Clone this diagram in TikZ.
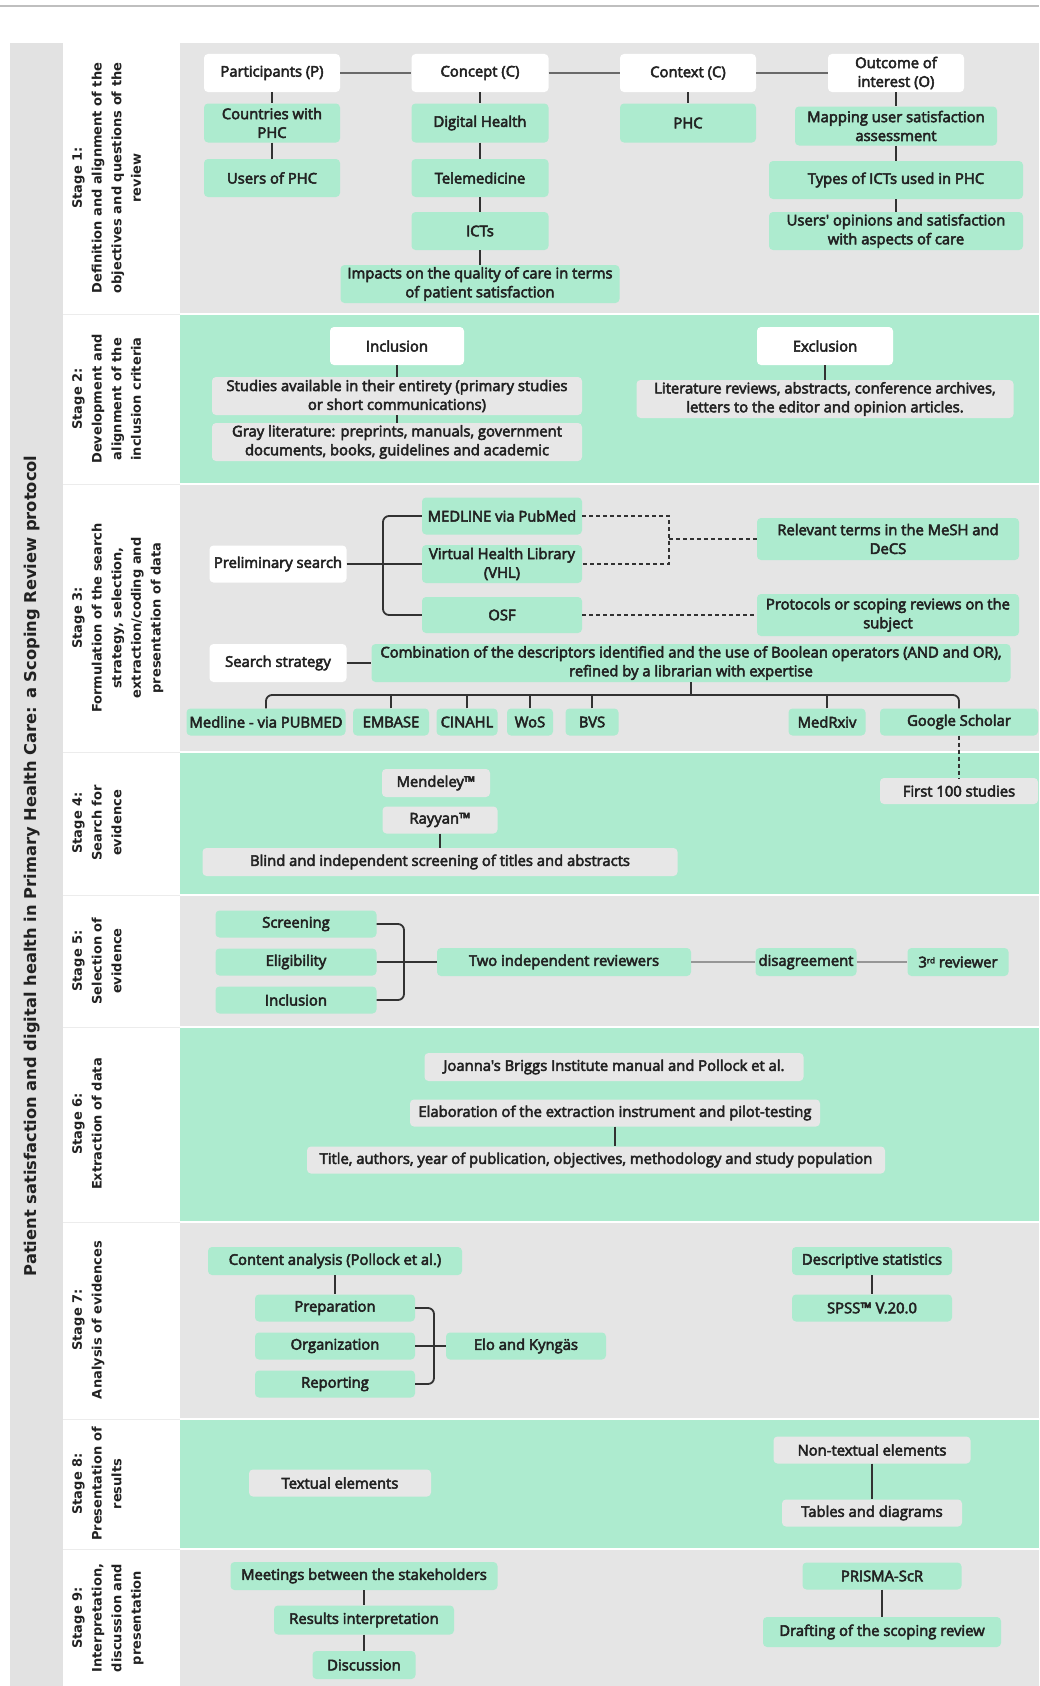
\documentclass[tikz,border=0pt]{standalone}
\usepackage{fontspec}
\newfontfamily\nf{Open Sans}[FakeBold=3.5]
\newfontfamily\lf{DejaVu Sans}
\definecolor{grn}{RGB}{173,235,207}
\definecolor{bgray}{RGB}{229,229,229}
\definecolor{ngray}{RGB}{231,231,231}
\definecolor{obgray}{RGB}{226,226,226}
\definecolor{txt}{RGB}{34,34,34}
\definecolor{lnk}{RGB}{50,50,50}
\definecolor{hl}{RGB}{105,105,105}
\definecolor{sepc}{RGB}{236,236,236}
\tikzset{
  nbox/.style={rounded corners=4pt, inner xsep=2pt, inner ysep=1pt, align=center, text=txt,
    font=\nf\fontsize{14.8}{18.8}\selectfont},
  gbox/.style={nbox, fill=grn},
  wbox/.style={nbox, fill=white},
  ybox/.style={nbox, fill=ngray},
  conn/.style={draw=lnk, line width=1.2pt},
  hdr/.style={draw=hl, line width=2.6pt},
  brk/.style={draw=lnk, line width=1.8pt, rounded corners=6pt},
  dsh/.style={draw=lnk, line width=1.2pt, dash pattern=on 4pt off 3pt},
  glink/.style={draw=hl!70, line width=1.5pt},
  lbl/.style={rotate=90, anchor=north, align=center, inner sep=0pt, text=txt,
    font=\lf\bfseries\fontsize{13}{19.7}\selectfont},
}
\begin{document}
\begin{tikzpicture}[x=1pt,y=-1pt]
\useasboundingbox (0,0) rectangle (1039,1686);
% top rule
\draw[draw=black!25, line width=1.5pt] (0,6) -- (1039,6);
% outer title band
\fill[obgray] (10,43) rectangle (63,1686);
\fill[white] (63,43) rectangle (180,1686);
% stage bands
\fill[bgray] (180,43) rectangle (1039,313);
\fill[grn]   (180,315) rectangle (1039,483);
\fill[bgray] (180,485) rectangle (1039,751);
\fill[grn]   (180,753) rectangle (1039,894);
\fill[bgray] (180,896) rectangle (1039,1026);
\fill[grn]   (180,1028) rectangle (1039,1221);
\fill[bgray] (180,1223) rectangle (1039,1418);
\fill[grn]   (180,1420) rectangle (1039,1548);
\fill[bgray] (180,1550) rectangle (1039,1686);
\foreach \yy in {314,484,752,895,1027,1222,1419,1549}
  \draw[sepc, line width=1pt] (63,\yy) -- (180,\yy);
% title
\node[rotate=90, text=txt, font=\lf\bfseries\fontsize{16.3}{18}\selectfont] (title) at (32,866)
  {Patient satisfaction and digital health in Primary Health Care: a Scoping Review protocol};
% stage labels
\node[lbl] (l1) at (72,178) {Stage 1:\\Definition and alignment of the\\objectives and questions of the\\review};
\node[lbl] (l2) at (72,399) {Stage 2:\\Development and\\alignment of the\\inclusion criteria};
\node[lbl] (l3) at (72,618) {Stage 3:\\Formulation of the search\\strategy, selection,\\extraction/coding and\\presentation of data};
\node[lbl] (l4) at (72,823) {Stage 4:\\Search for\\evidence};
\node[lbl] (l5) at (72,961) {Stage 5:\\Selection of\\evidence};
\node[lbl] (l6) at (72,1124) {Stage 6:\\Extraction of data};
\node[lbl] (l7) at (72,1320) {Stage 7:\\Analysis of evidences};
\node[lbl] (l8) at (72,1484) {Stage 8:\\Presentation of\\results};
\node[lbl] (l9) at (72,1618) {Stage 9:\\Interpretation,\\discussion and\\presentation};

% ---------- Stage 1
\node[wbox, minimum width=136pt, minimum height=38pt] (part) at (272,73) {Participants (P)};
\node[wbox, minimum width=137pt, minimum height=38pt] (conc) at (480,73) {Concept (C)};
\node[wbox, minimum width=136pt, minimum height=38pt] (cont) at (688,73) {Context (C)};
\node[wbox, minimum width=136pt, minimum height=38pt] (outc) at (896,73) {Outcome of\\interest (O)};
\node[gbox, minimum width=136pt, minimum height=39pt] (ctry) at (272,123) {Countries with\\PHC};
\node[gbox, minimum width=136pt, minimum height=38pt] (users) at (272,178) {Users of PHC};
\node[gbox, minimum width=137pt, minimum height=39pt] (dh) at (480,123) {Digital Health};
\node[gbox, minimum width=137pt, minimum height=38pt] (tele) at (480,178) {Telemedicine};
\node[gbox, minimum width=137pt, minimum height=38pt] (icts) at (480,231) {ICTs};
\node[gbox, minimum width=279pt, minimum height=38pt] (imp) at (480,284) {Impacts on the quality of care in terms\\of patient satisfaction};
\node[gbox, minimum width=136pt, minimum height=39pt] (phc) at (688,123) {PHC};
\node[gbox, minimum width=202pt, minimum height=39pt] (map) at (896,126) {Mapping user satisfaction\\assessment};
\node[gbox, minimum width=254pt, minimum height=38pt] (types) at (896,180) {Types of ICTs used in PHC};
\node[gbox, minimum width=254pt, minimum height=38pt] (opin) at (896,231) {Users' opinions and satisfaction\\with aspects of care};
\draw[hdr] (part) -- (conc);
\draw[hdr] (conc) -- (cont);
\draw[hdr] (cont) -- (outc);
\draw[conn] (part) -- (ctry);
\draw[conn] (ctry) -- (users);
\draw[conn] (conc) -- (dh);
\draw[conn] (dh) -- (tele);
\draw[conn] (tele) -- (icts);
\draw[conn] (icts) -- (imp);
\draw[conn] (cont) -- (phc);
\draw[conn] (outc) -- (map);
\draw[conn] (map) -- (types);
\draw[conn] (types) -- (opin);

% ---------- Stage 2
\node[wbox, minimum width=134pt, minimum height=38pt] (incl) at (397,346) {Inclusion};
\node[wbox, minimum width=136pt, minimum height=38pt] (excl) at (825,346) {Exclusion};
\node[ybox, minimum width=370pt, minimum height=38pt] (stud) at (397,396) {Studies available in their entirety (primary studies\\or short communications)};
\node[ybox, minimum width=370pt, minimum height=38pt] (grayl) at (397,442) {Gray literature: preprints, manuals, government\\documents, books, guidelines and academic};
\node[ybox, minimum width=377pt, minimum height=38pt] (lit) at (825,399) {Literature reviews, abstracts, conference archives,\\letters to the editor and opinion articles.};
\draw[conn] (incl) -- (stud);
\draw[conn] (stud) -- (grayl);
\draw[conn] (excl) -- (lit);

% ---------- Stage 3
\node[gbox, minimum width=160pt, minimum height=37pt] (medl) at (502,516) {MEDLINE via PubMed};
\node[gbox, minimum width=160pt, minimum height=38pt] (vhl) at (502,564) {Virtual Health Library\\(VHL)};
\node[gbox, minimum width=160pt, minimum height=36pt] (osf) at (502,615) {OSF};
\node[wbox, minimum width=137pt, minimum height=37pt] (prel) at (278,564) {Preliminary search};
\node[gbox, minimum width=262pt, minimum height=42pt] (rel) at (888,539) {Relevant terms in the MeSH and\\DeCS};
\node[gbox, minimum width=262pt, minimum height=42pt] (prot) at (888,615) {Protocols or scoping reviews on the\\subject};
\node[wbox, minimum width=137pt, minimum height=38pt] (sstr) at (278,663) {Search strategy};
\node[gbox, minimum width=639pt, minimum height=38pt] (combo) at (691,663) {Combination of the descriptors identified and the use of Boolean operators (AND and OR),\\refined by a librarian with expertise};
\node[gbox, minimum width=159pt, minimum height=27pt] (mpub) at (266,722) {Medline - via PUBMED};
\node[gbox, minimum width=76pt, minimum height=27pt] (emb) at (391,722) {EMBASE};
\node[gbox, minimum width=61pt, minimum height=27pt] (cin) at (467,722) {CINAHL};
\node[gbox, minimum width=46pt, minimum height=27pt] (wos) at (530,722) {WoS};
\node[gbox, minimum width=53pt, minimum height=27pt] (bvs) at (592,722) {BVS};
\node[gbox, minimum width=77pt, minimum height=27pt] (mrx) at (827,722) {MedRxiv};
\node[gbox, minimum width=158pt, minimum height=27pt] (gsch) at (959,722) {Google Scholar};
\coordinate (pj) at (383,564);
\draw[brk] (prel.east) -- (pj);
\draw[brk] (medl.west) -| (pj) |- (osf.west);
\draw[brk] (vhl.west) -- (pj);
\coordinate (dj) at (669,539);
\draw[dsh] (medl.east) -| (dj) |- (vhl.east);
\draw[dsh] (dj) -- (rel.west);
\draw[dsh] (osf.east) -- (prot.west);
\draw[brk] (sstr.east) -- (combo.west);
\coordinate (bl) at (0,695);
\draw[brk] (mpub.north) |- (gsch.north |- bl) -- (gsch.north);
\draw[brk] (combo.south) -- (combo.south |- bl);
\foreach \n in {emb,cin,wos,bvs,mrx} \draw[brk] (\n.north) -- (\n.north |- bl);

% ---------- Stage 4
\node[ybox, minimum width=108pt, minimum height=28pt] (mend) at (436,783) {Mendeley™};
\node[ybox, minimum width=115pt, minimum height=27pt] (rayy) at (440,820) {Rayyan™};
\node[ybox, minimum width=475pt, minimum height=28pt] (blind) at (440,862) {Blind and independent screening of titles and abstracts};
\node[ybox, minimum width=158pt, minimum height=26pt] (first) at (959,791) {First 100 studies};
\draw[conn] (rayy) -- (blind);
\draw[dsh] (gsch.south) -- (first.north);

% ---------- Stage 5
\node[gbox, minimum width=161pt, minimum height=27pt] (scr) at (296,924) {Screening};
\node[gbox, minimum width=161pt, minimum height=27pt] (eli) at (296,962) {Eligibility};
\node[gbox, minimum width=161pt, minimum height=27pt] (inc2) at (296,1000) {Inclusion};
\node[gbox, minimum width=254pt, minimum height=28pt] (two) at (564,962) {Two independent reviewers};
\node[gbox, minimum width=101pt, minimum height=28pt] (dis) at (806,962) {disagreement};
\node[gbox, minimum width=101pt, minimum height=28pt] (third) at (958,962) {3\raisebox{4pt}{\fontsize{8}{8}\selectfont rd} reviewer};
\coordinate (sj) at (404,962);
\draw[brk] (scr.east) -| (sj) |- (inc2.east);
\draw[brk] (eli.east) -- (two.west);
\draw[glink] (two) -- (dis);
\draw[glink] (dis) -- (third);

% ---------- Stage 6
\node[ybox, minimum width=379pt, minimum height=28pt] (jbi) at (614,1067) {Joanna's Briggs Institute manual and Pollock et al.};
\node[ybox, minimum width=410pt, minimum height=27pt] (elab) at (615,1113) {Elaboration of the extraction instrument and pilot-testing};
\node[ybox, minimum width=578pt, minimum height=27pt] (tit) at (596,1160) {Title, authors, year of publication, objectives, methodology and study population};
\draw[conn] (elab.south) -- (elab.south |- tit.north);

% ---------- Stage 7
\node[gbox, minimum width=254pt, minimum height=28pt] (cana) at (335,1261) {Content analysis (Pollock et al.)};
\node[gbox, minimum width=160pt, minimum height=27pt] (prep) at (335,1308) {Preparation};
\node[gbox, minimum width=160pt, minimum height=27pt] (org) at (335,1346) {Organization};
\node[gbox, minimum width=160pt, minimum height=27pt] (rep) at (335,1384) {Reporting};
\node[gbox, minimum width=160pt, minimum height=27pt] (elo) at (526,1346) {Elo and Kyngäs};
\node[gbox, minimum width=160pt, minimum height=28pt] (desc) at (872,1261) {Descriptive statistics};
\node[gbox, minimum width=160pt, minimum height=27pt] (spss) at (872,1308) {SPSS™ V.20.0};
\draw[conn] (cana) -- (prep);
\draw[conn] (desc) -- (spss);
\coordinate (ej) at (434,1346);
\draw[brk] (prep.east) -| (ej) |- (rep.east);
\draw[brk] (org.east) -- (elo.west);

% ---------- Stage 8
\node[ybox, minimum width=197pt, minimum height=27pt] (ntx) at (872,1450) {Non-textual elements};
\node[ybox, minimum width=180pt, minimum height=27pt] (tab) at (872,1513) {Tables and diagrams};
\node[ybox, minimum width=182pt, minimum height=27pt] (txe) at (340,1483) {Textual elements};
\draw[conn] (ntx) -- (tab);

% ---------- Stage 9
\node[gbox, minimum width=267pt, minimum height=28pt] (meet) at (364,1576) {Meetings between the stakeholders};
\node[gbox, minimum width=180pt, minimum height=29pt] (resi) at (364,1620) {Results interpretation};
\node[gbox, minimum width=103pt, minimum height=28pt] (disc) at (364,1665) {Discussion};
\node[gbox, minimum width=159pt, minimum height=27pt] (pris) at (882,1576) {PRISMA-ScR};
\node[gbox, minimum width=238pt, minimum height=30pt] (draft) at (882,1632) {Drafting of the scoping review};
\draw[conn] (meet) -- (resi);
\draw[conn] (resi) -- (disc);
\draw[conn] (pris) -- (draft);
\end{tikzpicture}
\end{document}
